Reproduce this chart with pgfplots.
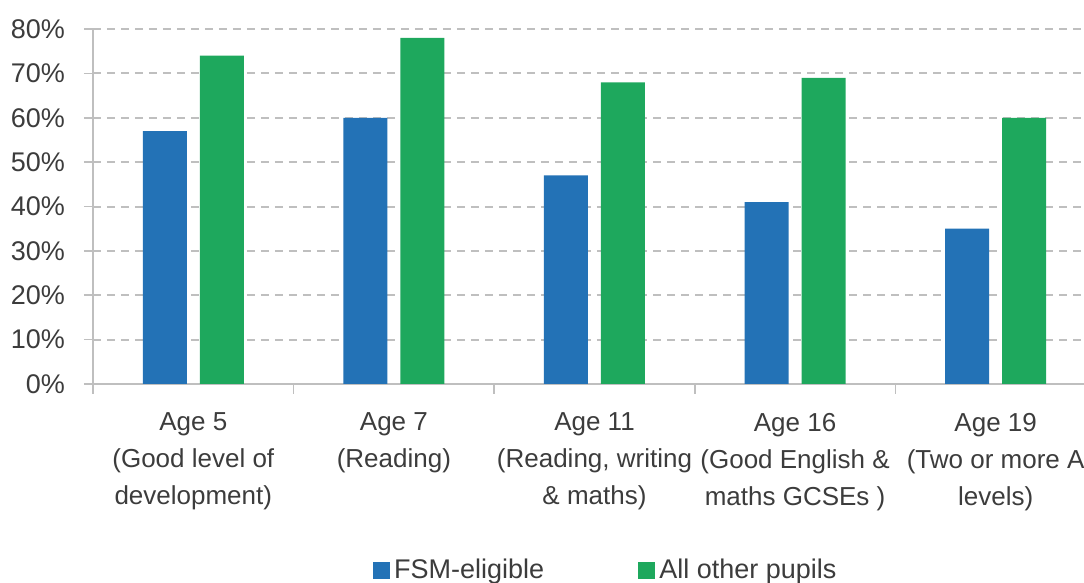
\documentclass[border=0pt]{standalone}
\usepackage{pgfplots}
\pgfplotsset{compat=1.18}
\usepackage{fontspec}
\setmainfont{Liberation Sans}
\definecolor{fsm}{HTML}{2372B6}
\definecolor{oth}{HTML}{1EA85D}
\definecolor{gridc}{HTML}{BFBFBF}
\definecolor{txt}{HTML}{3C3C3C}
\begin{document}
\begin{tikzpicture}
\begin{axis}[
  at={(46.5pt,99.5pt)}, anchor=south west,
  scale only axis, width=501.5pt, height=177.5pt,
  ybar=6.5pt, bar width=22pt,
  xmin=-0.5, xmax=4.5, ymin=0, ymax=80,
  axis x line*=bottom, axis y line*=left,
  axis line style={-, gridc, line width=0.75pt},
  ytick={0,10,...,80},
  yticklabels={0\%,10\%,20\%,30\%,40\%,50\%,60\%,70\%,80\%},
  ymajorgrids,
  major grid style={gridc, dash pattern=on 4.2pt off 2.8pt, line width=1pt},
  tick align=outside,
  major tick length=4.5pt,
  minor tick length=5pt,
  ytick style={gridc, line width=0.75pt},
  xtick={0,1,2,3,4},
  minor xtick={-0.5,0.5,1.5,2.5,3.5,4.5},
  major x tick style={draw=none},
  minor x tick style={gridc, line width=0.75pt},
  xticklabels={
    {Age 5\\(Good level of\\development)},
    {Age 7\\(Reading)},
    {Age 11\\(Reading, writing\\\& maths)},
    {Age 16\\(Good English \&\\maths GCSEs )},
    {Age 19\\(Two or more A\\levels)}},
  ticklabel style={font=\fontsize{13.5}{18.5}\selectfont, text=txt},
  xticklabel style={align=center, yshift=-6.5pt, font=\fontsize{13}{18.5}\selectfont},
  yticklabel style={xshift=-6pt},
  legend style={at={(axis description cs:0.279,-0.524)}, anchor=west,
    draw=none, fill=none, inner sep=0pt,
    font=\fontsize{13.5}{16}\selectfont, text=txt,
    /tikz/every even column/.append style={column sep=45pt}},
  legend columns=2,
  legend image code/.code={\fill[#1,draw=none] (0pt,-4.25pt) rectangle (8.5pt,4.25pt);},
]
\addplot[fill=fsm, draw=none] coordinates {(0,57) (1,60) (2,47) (3,41) (4,35)};
\addplot[fill=oth, draw=none] coordinates {(0,74) (1,78) (2,68) (3,69) (4,60)};
\legend{FSM-eligible, All other pupils}
\end{axis}
\pgfresetboundingbox
\useasboundingbox (0,0) rectangle (542pt,291.5pt);
\end{tikzpicture}
\end{document}
